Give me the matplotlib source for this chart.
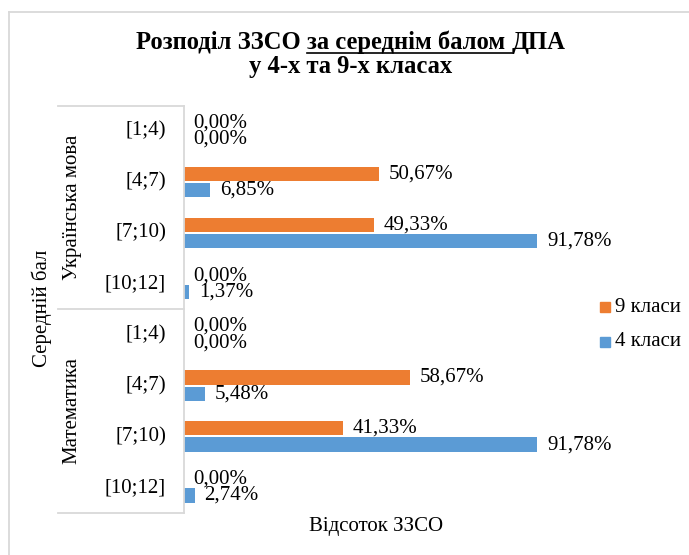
import numpy as np
import matplotlib
matplotlib.use('Agg')
import matplotlib.pyplot as plt
from matplotlib.lines import Line2D
from matplotlib.patches import Rectangle

groups = ['Українська мова', 'Математика']
bins = ['[1;4)', '[4;7)', '[7;10)', '[10;12]']
grade9 = [0.00, 50.67, 49.33, 0.00, 0.00, 58.67, 41.33, 0.00]
grade4 = [0.00, 6.85, 91.78, 1.37, 0.00, 5.48, 91.78, 2.74]
series_names = ['9 класи', '4 класи']
title_parts = ['Розподіл ЗЗСО ', 'за середнім балом ', 'ДПА']
title_line2 = 'у 4-х та 9-х класах'
y_title = 'Середній бал'
x_title = 'Відсоток ЗЗСО'

ORANGE = '#ED7D31'
BLUE = '#5B9BD5'
GRID = '#D9D9D9'
TXT = '#000000'

W, H = 689, 555
plt.rcParams['font.family'] = ['Liberation Serif', 'DejaVu Serif']
fig = plt.figure(figsize=(W / 100, H / 100), dpi=100)


def fx(x):
    return x / W


def fy(y):
    return 1 - y / H


# outer chart border (partly cropped)
fig.add_artist(Line2D([fx(8.5), fx(700)], [fy(11.5), fy(11.5)], color=GRID, lw=1.3))
fig.add_artist(Line2D([fx(8.5), fx(8.5)], [fy(11.5), fy(600)], color=GRID, lw=1.3))

ax_left, ax_right, ax_top, ax_bottom = 184, 569, 105.6, 512.8
ax = fig.add_axes([fx(ax_left), fy(ax_bottom), (ax_right - ax_left) / W,
                   (ax_bottom - ax_top) / H])
n = len(grade9)
ys = np.arange(n)
off = 0.16
bh = 0.28
ax.barh(ys - off, grade9, height=bh, color=ORANGE, label=series_names[0])
ax.barh(ys + off, grade4, height=bh, color=BLUE, label=series_names[1])
ax.set_xlim(0, 100)
ax.set_ylim(n - 0.5, -0.5)
for s in ['top', 'right', 'bottom']:
    ax.spines[s].set_visible(False)
ax.spines['left'].set_color(GRID)
ax.spines['left'].set_linewidth(1.3)
ax.set_xticks([])
ax.set_yticks([])
ax.patch.set_alpha(0)


def fmt(v):
    return f"{v:.2f}%".replace('.', ',')


FS = 15
for i in range(n):
    ax.annotate(fmt(grade9[i]), (grade9[i], ys[i] - off), xytext=(7, 0),
                textcoords='offset points', va='center', ha='left', fontsize=FS, color=TXT)
    ax.annotate(fmt(grade4[i]), (grade4[i], ys[i] + off), xytext=(7, 0),
                textcoords='offset points', va='center', ha='left', fontsize=FS, color=TXT)

# category labels
step = (ax_bottom - ax_top) / n
for gi, g in enumerate(groups):
    for bi, b in enumerate(bins):
        idx = gi * len(bins) + bi
        yc = ax_top + step * (idx + 0.5)
        fig.text(fx(166), fy(yc), b, ha='right', va='center', fontsize=FS, color=TXT)
    g_top = ax_top + step * gi * len(bins)
    g_bot = ax_top + step * (gi + 1) * len(bins)
    fig.text(fx(72), fy((g_top + g_bot) / 2), g, rotation=90, ha='center', va='center',
             fontsize=FS, color=TXT)
# multi-level separators
for k in range(len(groups) + 1):
    yy = ax_top + step * k * len(bins)
    fig.add_artist(Line2D([fx(58), fx(ax_left)], [fy(yy), fy(yy)], color=GRID, lw=1.3))

# axis titles
fig.text(fx(42), fy(308), y_title, rotation=90, ha='center', va='center', fontsize=FS, color=TXT)
fig.text(fx(376), fy(527), x_title, ha='center', va='center', fontsize=FS, color=TXT)

# legend
for k, (name, col) in enumerate(zip(series_names, [ORANGE, BLUE])):
    yc = 307 + 35 * k
    fig.add_artist(Rectangle((fx(600), fy(yc + 5)), 10 / W, 10 / H, color=col,
                             transform=fig.transFigure))
    fig.text(fx(615), fy(yc), name, ha='left', va='center', fontsize=FS, color=TXT)

# title with underline
TFS = 17.7
renderer = fig.canvas.get_renderer()
widths = []
tmp = []
for p in title_parts:
    t = fig.text(0, 0, p, fontsize=TFS, fontweight='bold')
    tmp.append(t)
for t in tmp:
    bb = t.get_window_extent(renderer)
    widths.append(bb.width)
full = fig.text(0, 0, ''.join(title_parts), fontsize=TFS, fontweight='bold')
total = full.get_window_extent(renderer).width
full.remove()
for t in tmp:
    t.remove()
cx = 351
x0 = cx - total / 2
y1 = 42
xs = x0
for i, p in enumerate(title_parts):
    fig.text(fx(xs), fy(y1), p, fontsize=TFS, fontweight='bold', ha='left', va='center',
             color=TXT)
    if i == 1:
        fig.add_artist(Line2D([fx(xs), fx(xs + widths[i])], [fy(y1 + 11), fy(y1 + 11)],
                              color=TXT, lw=1.2))
    xs += widths[i]
fig.text(fx(cx), fy(67), title_line2, fontsize=TFS, fontweight='bold', ha='center',
         va='center', color=TXT)

fig.savefig('out.png', dpi=100, facecolor='white')
